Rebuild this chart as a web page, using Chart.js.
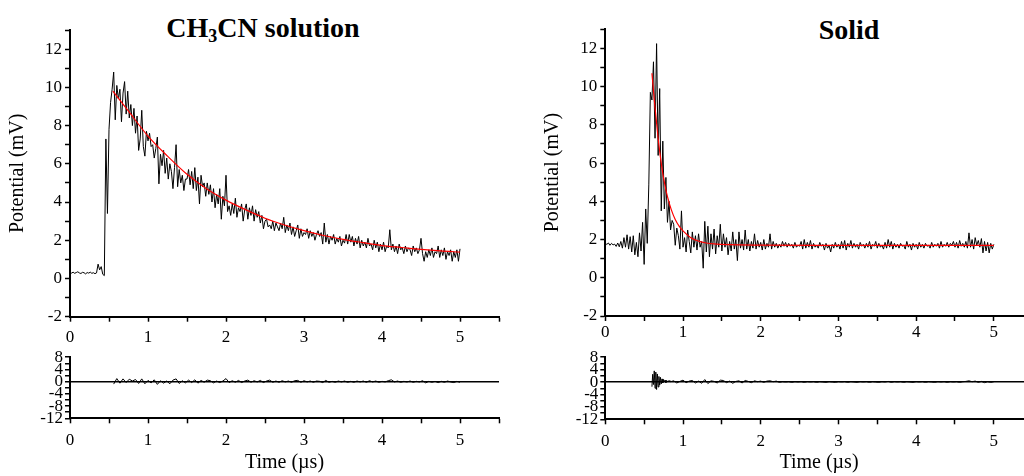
<!DOCTYPE html>
<html>
<head>
<meta charset="utf-8">
<script src="https://cdn.jsdelivr.net/npm/chart.js@4.4.1/dist/chart.umd.min.js"></script>
<style>
  html, body { margin: 0; padding: 0; background: #fff; width: 1024px; height: 476px; overflow: hidden; }
  canvas { position: absolute; }
  .title { position: absolute; font-family: "Liberation Serif", "Times New Roman", serif; font-weight: bold;
           font-size: 28px; transform: translate(-50%, -50%); white-space: nowrap; color: #000; }
  .title sub { font-size: 18px; vertical-align: -5px; line-height: 0; }
</style>
</head>
<body>
<div class="title" style="left:263px; top:28px;">CH<sub>3</sub>CN solution</div>
<div class="title" style="left:849px; top:30px;">Solid</div>
<canvas id="solMain" width="512" height="350" style="left:0; top:0;"></canvas>
<canvas id="solRes" width="512" height="131" style="left:0; top:345px;"></canvas>
<canvas id="solidMain" width="530" height="350" style="left:512px; top:0;"></canvas>
<canvas id="solidRes" width="530" height="131" style="left:512px; top:345px;"></canvas>
<script>
// sampling: traces recorded every 0.02 us starting at t = 0
const traceStart = 0, traceStep = 0.02;

// CH3CN solution, measured potential (mV)
const solutionSignal = [
  0.30,0.28,0.33,0.27,0.31,0.35,0.29,0.26,0.32,0.30,0.24,0.31,0.28,0.33,0.27,0.30,0.25,0.29,0.75,0.45,0.62,0.22,0.15,
  7.3,3.4,7.8,9.2,9.9,10.8,8.3,10.1,9.4,9.9,8.2,9.7,10.3,8.6,9.8,8.4,9.1,8.0,8.9,7.6,8.5,6.7,7.3,8.8,6.9,6.4,7.7,
  7.2,7.6,6.9,7.0,6.3,6.8,7.4,4.95,6.5,5.9,6.7,5.5,6.3,5.2,6.0,5.6,4.7,5.8,7.0,4.8,5.7,5.0,5.4,4.6,5.2,
  5.2,5.7,4.9,5.6,4.7,5.8,4.6,5.3,3.9,5.4,4.8,5.0,4.3,5.0,4.4,4.9,4.0,4.7,3.7,4.4,3.9,4.7,3.1,4.3,3.8,
  5.4,3.5,3.8,3.3,3.9,3.4,4.2,3.2,3.7,3.5,3.9,3.0,3.6,3.9,3.1,3.7,3.3,3.8,3.0,3.6,3.2,3.5,2.9,3.3,2.6,
  3.0,3.1,2.7,2.8,2.6,3.0,2.5,2.9,2.7,2.5,2.9,2.6,3.2,2.4,2.8,2.5,2.9,2.3,2.7,2.2,2.5,2.8,2.1,2.6,2.2,
  2.4,2.3,2.6,2.1,2.5,2.2,2.4,2.0,2.3,2.5,2.2,2.4,1.8,2.9,1.9,2.3,1.8,2.2,2.0,2.3,1.8,2.1,1.9,2.2,1.7,
  2.0,1.85,2.3,1.8,2.3,1.9,2.2,1.7,2.1,1.8,2.2,1.6,2.0,1.7,1.9,1.6,2.1,1.7,1.8,1.5,2.0,1.6,1.9,1.4,1.8,
  1.5,1.9,1.4,1.7,1.6,2.55,1.5,1.8,1.4,1.7,1.3,1.8,1.5,1.6,1.3,1.7,1.4,1.6,1.5,1.2,1.7,1.4,1.6,1.3,1.5,
  2.1,1.3,0.9,1.4,1.1,1.5,1.2,1.6,1.1,1.4,1.3,1.7,1.1,1.5,1.2,1.6,1.0,1.4,1.2,1.5,0.9,1.4,1.1,1.5,0.9,1.55
];
// CH3CN solution, exponential fit
const solutionFitTime = [0.55,0.75,1.0,1.25,1.5,1.75,2.0,2.25,2.5,2.75,3.0,3.25,3.5,3.75,4.0,4.25,4.5,4.75,5.0];
const solutionFit = [9.8,8.75,7.45,6.4,5.45,4.7,4.1,3.6,3.15,2.8,2.5,2.25,2.05,1.88,1.72,1.62,1.52,1.44,1.38];
// CH3CN solution, residuals (from 0.56 us, every 0.04 us)
const solutionResStart = 0.56, solutionResStep = 0.04;
const solutionResidual = [
  -0.8,1.0,-0.5,0.9,-0.3,0.8,0.2,0.7,-0.6,0.9, -0.7,0.4,-0.4,0.6,-0.9,0.3,-0.5,0.2,-0.7,0.5,
  0.9,-0.6,0.3,-0.4,0.5,-0.3,0.6,-0.5,0.4,-0.2, 0.5,0.3,-0.4,0.2,-0.3,0.2,1.0,-0.3,0.3,-0.2,
  0.4,-0.3,0.2,0.5,-0.2,0.3,-0.1,0.4,-0.3,0.2, 0.5,-0.2,0.2,-0.2,0.3,-0.1,0.2,-0.2,0.3,0.4,
  -0.2,0.3,-0.1,0.2,-0.2,0.2,0.1,-0.3,0.4,-0.2, 0.1,-0.2,0.2,-0.1,0.2,-0.2,0.1,-0.2,0.2,-0.1,
  0.2,-0.2,0.3,-0.1,0.2,-0.2,0.1,-0.1,0.3,0.6, -0.1,0.2,-0.2,0.1,-0.1,0.2,-0.2,0.1,-0.1,0.3,
  -0.4,0.1,-0.2,0.1,-0.3,0.1,-0.2,0.2,-0.1,-0.3, 0.1,-0.2
];

// Solid, measured potential (mV)
const solidSignal = [
  1.78,1.75,1.82,1.70,1.80,1.72,1.76,1.64,1.82,1.62,1.90,1.55,2.10,1.60,2.25,1.50,2.15,1.35,2.20,1.20,1.85,1.10,2.35,1.40,2.90,
  0.70,3.60,1.80,4.90,9.70,9.30,11.30,7.30,12.25,6.40,9.90,3.50,7.15,3.60,5.25,2.90,4.00,2.50,3.00,2.80,1.70,2.60,2.20,1.50,3.50,
  1.60,2.10,1.35,2.50,1.90,1.30,2.40,1.60,2.20,1.45,2.30,1.60,1.90,0.50,2.95,1.35,2.70,1.10,2.30,1.50,2.55,1.25,2.20,1.60,2.80,
  1.40,2.30,1.60,2.10,1.20,1.90,1.40,2.40,1.50,2.00,0.90,2.40,1.55,2.00,1.45,2.50,1.50,2.00,1.40,1.90,1.55,2.30,1.50,1.95,1.60,
  1.85,1.45,2.00,1.50,1.80,1.60,2.30,1.50,1.90,1.60,1.80,1.55,1.75,1.60,1.90,1.65,1.85,1.60,1.80,1.65,1.75,1.55,1.85,1.60,1.70,
  1.65,1.90,1.50,2.00,1.55,1.85,1.60,1.95,1.50,1.80,1.60,1.70,1.55,1.85,1.65,1.75,1.45,1.80,1.55,1.70,1.35,1.75,1.55,1.85,1.60,
  1.75,1.50,1.90,1.55,1.95,1.45,1.80,1.60,1.95,1.55,1.80,1.60,1.75,1.50,1.85,1.65,1.75,1.55,1.80,1.60,1.90,1.50,1.75,1.65,1.90,
  1.55,1.80,1.60,1.70,1.50,1.85,1.55,2.00,1.60,1.90,1.50,1.80,1.60,1.75,1.55,1.80,1.65,1.70,1.50,1.90,1.60,1.75,1.45,1.80,1.60,
  1.75,1.50,1.85,1.60,1.75,1.55,1.80,1.65,1.70,1.55,1.85,1.60,1.75,1.65,1.80,1.55,1.90,1.60,1.75,1.65,1.85,1.60,1.80,1.70,1.90,
  1.60,1.85,1.55,1.95,1.65,1.80,1.60,1.90,1.55,2.35,1.60,2.00,1.50,2.10,1.70,1.95,1.60,2.05,1.30,1.90,1.40,1.85,1.30,1.80,1.50,1.75
];
// Solid, exponential fit
const solidFitTime = [0.60,0.62,0.64,0.66,0.68,0.70,0.72,0.74,0.76,0.78,0.80,0.85,0.90,0.95,1.00,1.10,1.20,1.30,1.40,1.60,2.00,3.00,4.00,5.00];
const solidFit = [10.7,9.8,8.9,8.1,7.3,6.6,6.0,5.45,5.0,4.6,4.25,3.55,3.05,2.7,2.45,2.1,1.92,1.82,1.77,1.73,1.71,1.70,1.70,1.70];
// Solid, residuals: ringing part every 0.01 us from 0.60, then every 0.04 us from 0.88
const solidResEarlyStart = 0.60, solidResEarlyStep = 0.01;
const solidResidualEarly = [-1.5,2.5,-0.8,3.6,-2.0,3.2,-2.4,2.6,-1.6,1.8,-1.0,1.5,-0.6,1.0,-0.3,0.8,0.1,0.6,-0.2,0.5,0.0,0.4,0.2,0.5,0.1];
const solidResLateStart = 0.88, solidResLateStep = 0.04;
const solidResidualLate = [
  0.4,-0.3,0.2,0.6,-0.2,0.3,0.5,-0.3,0.3,-0.4, 0.8,-0.5,0.4,0.2,-0.3,0.6,0.5,-0.2,0.3,-0.4,
  0.2,0.4,-0.3,0.5,0.2,-0.2,0.4,0.1,0.3,-0.1, 0.3,0.4,0.1,0.3,-0.1,0.1,0.0,0.1,-0.1,0.1,
  0.0,0.1,-0.1,0.1,0.0,0.1,-0.1,0.1,0.0,-0.1, 0.1,0.0,-0.1,0.1,0.0,0.1,-0.1,0.1,0.0,-0.1,
  0.1,0.0,0.1,-0.1,0.1,0.0,-0.1,0.1,0.0,0.2, -0.1,0.1,0.0,0.1,-0.1,0.1,0.0,-0.1,0.1,0.0,
  0.1,-0.1,0.1,0.0,-0.1,0.1,0.0,0.1,-0.1,0.1, 0.0,0.1,-0.1,0.1,0.2,0.4,0.1,0.3,-0.1,0.2,
  -0.2,0.1,-0.1,0.1
];

const serif = "'Liberation Serif', 'Times New Roman', serif";
Chart.defaults.font.family = serif;
Chart.defaults.color = '#000';

function sampled(values, start, step) {
  return values.map((v, i) => ({ x: +(start + i * step).toFixed(3), y: v }));
}
function paired(xs, ys) {
  return xs.map((x, i) => ({ x: x, y: ys[i] }));
}

function xScale(height, pad, withTitle) {
  return {
    type: 'linear', min: 0, max: 5.5,
    afterFit: s => { s.height = height; },
    ticks: { stepSize: 0.5, autoSkip: false, maxRotation: 0, padding: pad, font: { size: 17 },
             callback: v => Number.isInteger(v) ? v : '' },
    grid: { drawOnChartArea: false, tickLength: 5, color: '#000', tickWidth: 1.5 },
    border: { color: '#000', width: 2 },
    title: { display: withTitle, text: 'Time (\u00b5s)', font: { size: 20 }, padding: { top: 0, bottom: 1 } }
  };
}

function makeMain(id, signal, fitT, fitV, yW, titlePad, padTop, padRight, xH, xPad) {
  new Chart(document.getElementById(id), {
    type: 'line',
    data: {
      datasets: [
        { data: paired(fitT, fitV), borderColor: '#ff0000', borderWidth: 1.2, cubicInterpolationMode: 'monotone' },
        { data: sampled(signal, traceStart, traceStep), borderColor: '#000', borderWidth: 1 }
      ]
    },
    options: {
      responsive: false, animation: false, events: [],
      layout: { padding: { top: padTop, right: padRight, left: 0, bottom: 0 } },
      plugins: { legend: { display: false }, tooltip: { enabled: false } },
      elements: { point: { radius: 0 } },
      scales: {
        x: xScale(xH, xPad, false),
        y: {
          min: -2, max: 13,
          afterFit: s => { s.width = yW; },
          ticks: { stepSize: 1, autoSkip: false, padding: 3, font: { size: 17 },
                   callback: v => v % 2 === 0 ? v : '' },
          grid: { drawOnChartArea: false, tickLength: 5, color: '#000', tickWidth: 1.5 },
          border: { color: '#000', width: 2 },
          title: { display: true, text: 'Potential (mV)', font: { size: 20 }, padding: { top: titlePad, bottom: 0 } }
        }
      }
    }
  });
}

function makeRes(id, datasets, yW, padTop, padRight, xH) {
  new Chart(document.getElementById(id), {
    type: 'line',
    data: { datasets: datasets },
    options: {
      responsive: false, animation: false, events: [],
      layout: { padding: { top: padTop, right: padRight, left: 0, bottom: 0 } },
      plugins: { legend: { display: false }, tooltip: { enabled: false } },
      elements: { point: { radius: 0 } },
      scales: {
        x: xScale(xH, 7, true),
        y: {
          min: -12, max: 8,
          afterFit: s => { s.width = yW; },
          ticks: { stepSize: 2, autoSkip: false, padding: 2, font: { size: 17 },
                   callback: v => v % 4 === 0 ? v : '' },
          grid: { drawOnChartArea: true, tickLength: 5, tickColor: '#000', tickWidth: 1.5, lineWidth: 1.5,
                  color: c => (c.tick && c.tick.value === 0) ? '#000' : 'rgba(0,0,0,0)' },
          border: { color: '#000', width: 2 }
        }
      }
    }
  });
}

makeMain('solMain', solutionSignal, solutionFitTime, solutionFit, 70, 5.5, 30, 13, 33.3, 6);
makeMain('solidMain', solidSignal, solidFitTime, solidFit, 93.3, 29, 29.3, 9.3, 34, 1);

makeRes('solRes', [
  { data: sampled(solutionResidual, solutionResStart, solutionResStep), borderColor: '#000', borderWidth: 1 }
], 70, 10, 13, 57.7);
makeRes('solidRes', [
  { data: sampled(solidResidualEarly, solidResEarlyStart, solidResEarlyStep)
          .concat(sampled(solidResidualLate, solidResLateStart, solidResLateStep)),
    borderColor: '#000', borderWidth: 1 }
], 93.3, 10, 9.3, 56.7);
</script>
</body>
</html>
